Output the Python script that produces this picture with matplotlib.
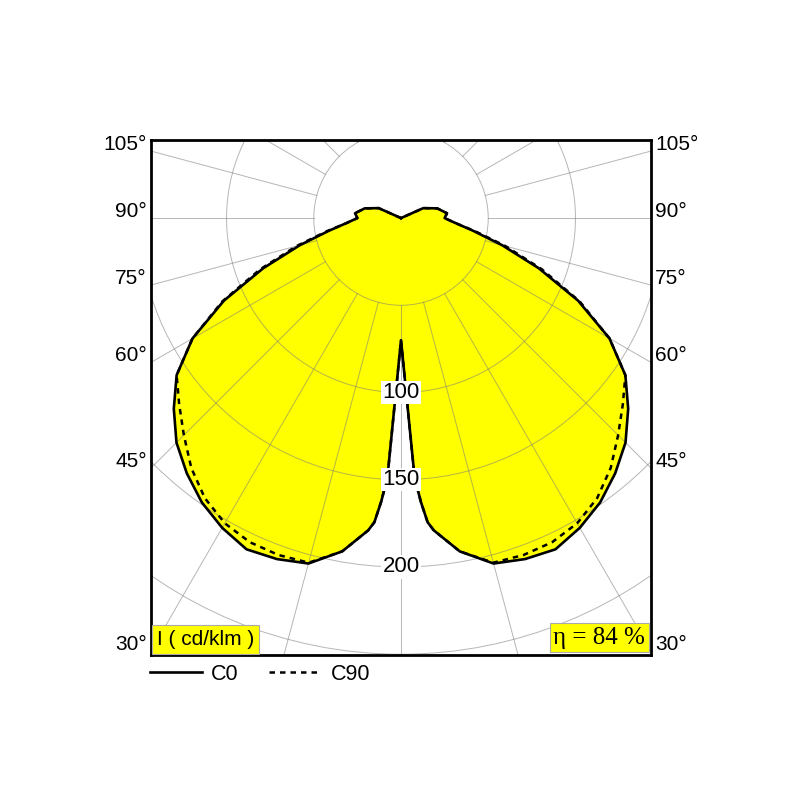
import numpy as np
import matplotlib
matplotlib.use("Agg")
from matplotlib import pyplot as plt
from matplotlib.patches import Circle

# luminous intensity (cd/klm) against gamma angle from nadir, one half-plane
gamma = [0, 3, 4, 5, 6, 10, 15, 20, 25, 30, 35, 40, 45, 50, 55, 60, 65, 70, 75, 80, 85, 90, 96, 105, 114, 180]
c0 = [70, 149, 163, 175, 180, 194, 205, 208, 209.5, 205, 199, 191, 182, 170, 157, 138, 112, 84, 60, 42, 31, 25, 26.5, 21.5, 14, 0]
c90 = [70, 149, 163, 175, 180, 194, 204.5, 205.5, 205, 202, 196, 187, 176, 166, 157, 138, 113, 86, 62, 43, 31, 25, 26.5, 21.5, 14, 0]

rings = [50, 100, 150, 200, 250]
ring_labels = [100, 150, 200]
side_angles = [30, 45, 60, 75, 90, 105]
eta = 84

plt.rcParams['font.family'] = ['Liberation Sans', 'DejaVu Sans']

def to_xy(g, r):
    g = np.radians(np.concatenate([-np.array(g)[::-1], np.array(g)[1:]]))
    r = np.concatenate([np.array(r)[::-1], np.array(r)[1:]])
    return r * np.sin(g), -r * np.cos(g)

fig = plt.figure(figsize=(8, 8), dpi=100)
ax = fig.add_axes([151 / 800, 1 - 655 / 800, 500 / 800, 515 / 800])
xmax = 143.3
ax.set_xlim(-xmax, xmax)
ax.set_ylim(-250.4, 44.7)
ax.set_aspect('equal')
ax.set_xticks([])
ax.set_yticks([])
for s in ax.spines.values():
    s.set_linewidth(2)
    s.set_zorder(6)

x0, y0 = to_xy(gamma, c0)
x9, y9 = to_xy(gamma, c90)
ax.fill(x0, y0, color='#ffff00', zorder=1, lw=0)

# grid
for r in rings:
    ax.add_patch(Circle((0, 0), r, fill=False, ec='#7a7a7a', lw=0.7, alpha=0.55, zorder=2))
for a in range(-180, 181, 15):
    t = np.radians(a)
    ax.plot([50 * np.sin(t), 400 * np.sin(t)], [-50 * np.cos(t), -400 * np.cos(t)],
            color='#7a7a7a', lw=0.7, alpha=0.55, zorder=2)

l90, = ax.plot(x9, y9, color='black', lw=1.8, ls=(0, (2.2, 2.0)), zorder=3, label='C90')
l0, = ax.plot(x0, y0, color='black', lw=1.9, zorder=4, label='C0')

for v in ring_labels:
    ax.text(0, -v, str(v), ha='center', va='center', fontsize=16, zorder=5,
            bbox=dict(facecolor='white', edgecolor='none', pad=0.8))

for a in side_angles:
    y = -xmax / np.tan(np.radians(a)) + 4
    ax.text(-xmax - 2.5, y, f'{a}°', ha='right', va='center', fontsize=15, clip_on=False)
    ax.text(xmax + 2.5, y, f'{a}°', ha='left', va='center', fontsize=15, clip_on=False)

ax.text(0.012, 0.012, 'I ( cd/klm )', transform=ax.transAxes, ha='left', va='bottom',
        fontsize=15, zorder=7,
        bbox=dict(facecolor='#ffff00', edgecolor='#aaaaaa', lw=0.8, pad=3.5))
ax.text(0.988, 0.012, f'η = {eta} %', transform=ax.transAxes, ha='right', va='bottom',
        fontsize=18, family=['Liberation Serif', 'DejaVu Serif'], zorder=7,
        bbox=dict(facecolor='#ffff00', edgecolor='#aaaaaa', lw=0.8, pad=2.5))

ax.legend(handles=[l0, l90], loc='upper left', bbox_to_anchor=(-0.002, -0.017), ncol=2,
          frameon=False, fontsize=15.5, handlelength=2.4, handletextpad=0.45,
          columnspacing=1.4, borderpad=0, borderaxespad=0)

fig.savefig('out.png', dpi=100)
